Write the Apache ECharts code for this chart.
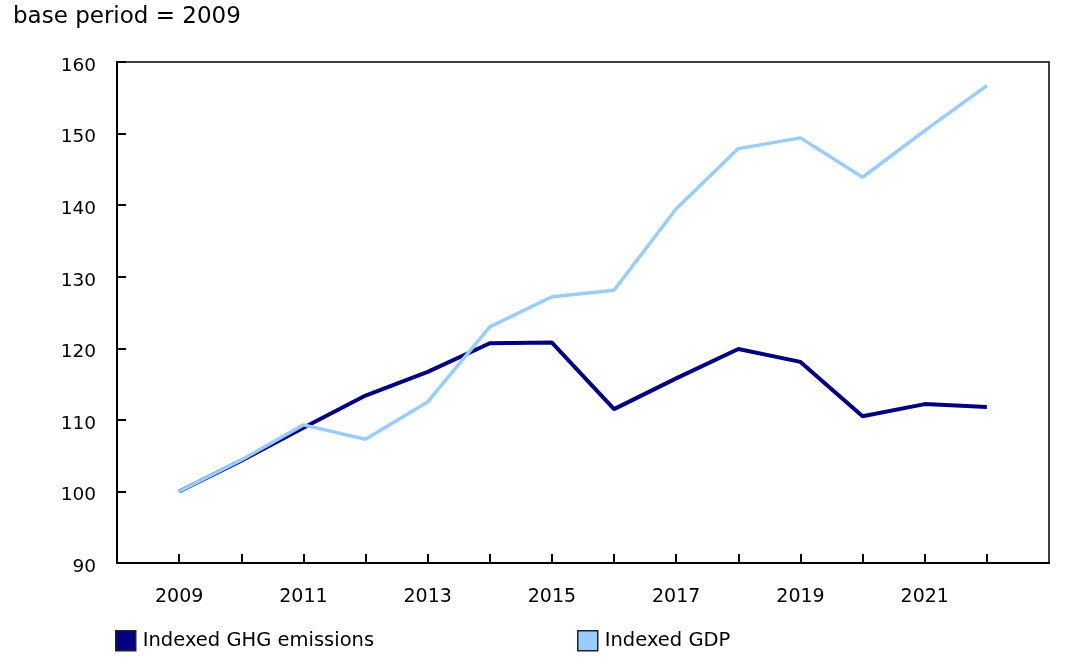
<!DOCTYPE html>
<html>
<head>
<meta charset="utf-8">
<script src="https://cdn.jsdelivr.net/npm/echarts@6/dist/echarts.min.js"></script>
<style>
html,body{margin:0;padding:0;background:#fff;}
#chart{width:1077px;height:668px;}
</style>
</head>
<body>
<div id="chart"></div>
<script>
const years = [2009, 2010, 2011, 2012, 2013, 2014, 2015, 2016, 2017, 2018, 2019, 2020, 2021, 2022];
const ghgEmissions = [100, 104.3, 108.9, 113.4, 116.7, 120.7, 120.8, 111.5, 115.8, 119.9, 118.1, 110.5, 112.2, 111.8];
const gdp = [100, 104.4, 109.3, 107.3, 112.5, 123.0, 127.2, 128.1, 139.5, 147.9, 149.4, 143.9, 150.4, 156.7];
const xTickLabels = [2009, 2011, 2013, 2015, 2017, 2019, 2021];
const seriesNames = ['Indexed GHG emissions', 'Indexed GDP'];

const font = 'DejaVu Sans, Verdana, sans-serif';
const chart = echarts.init(document.getElementById('chart'));
const legendCommon = {
  icon: 'rect', itemWidth: 20, itemHeight: 20, padding: 0,
  itemStyle: { borderColor: '#222', borderWidth: 1.5 },
  textStyle: { fontFamily: font, fontSize: 19.5, color: '#000', padding: [0, 0, 0, 2] }
};
chart.setOption({
  animation: false,
  backgroundColor: '#fff',
  textStyle: { fontFamily: font, color: '#000' },
  title: {
    text: 'base period = 2009',
    left: 8,
    top: 1,
    textStyle: { fontFamily: font, fontSize: 23, fontWeight: 'normal', color: '#000' }
  },
  legend: [
    Object.assign({ data: [seriesNames[0]], left: 115, top: 630 }, legendCommon),
    Object.assign({ data: [seriesNames[1]], left: 577, top: 630 }, legendCommon)
  ],
  grid: {
    left: 117, right: 28, top: 62, bottom: 105,
    show: true, borderColor: '#000', borderWidth: 1.5, backgroundColor: 'transparent'
  },
  xAxis: {
    type: 'value', min: 2008, max: 2023, interval: 1,
    axisLine: { show: true, lineStyle: { color: '#000', width: 2 } },
    axisTick: { show: true, inside: true, length: 9, lineStyle: { color: '#000', width: 2 } },
    splitLine: { show: false },
    axisLabel: {
      margin: 25, fontSize: 19, fontFamily: font, color: '#000',
      showMinLabel: false, showMaxLabel: false,
      formatter: function (v) { return xTickLabels.indexOf(v) >= 0 ? String(v) : ''; }
    }
  },
  yAxis: {
    type: 'value', min: 90, max: 160, interval: 10,
    axisLine: { show: true, lineStyle: { color: '#000', width: 2 } },
    axisTick: { show: true, inside: true, length: 9, lineStyle: { color: '#000', width: 2 } },
    splitLine: { show: false },
    axisLabel: { margin: 21, fontSize: 18.5, fontFamily: font, color: '#000', verticalAlign: 'top', lineHeight: 8 }
  },
  series: [
    {
      name: seriesNames[0], type: 'line', symbol: 'none',
      data: years.map((y, i) => [y, ghgEmissions[i]]),
      lineStyle: { color: '#000080', width: 4 },
      itemStyle: { color: '#000080' }
    },
    {
      name: seriesNames[1], type: 'line', symbol: 'none',
      data: years.map((y, i) => [y, gdp[i]]),
      lineStyle: { color: '#99ccff', width: 3.5 },
      itemStyle: { color: '#99ccff' }
    }
  ]
});
</script>
</body>
</html>
